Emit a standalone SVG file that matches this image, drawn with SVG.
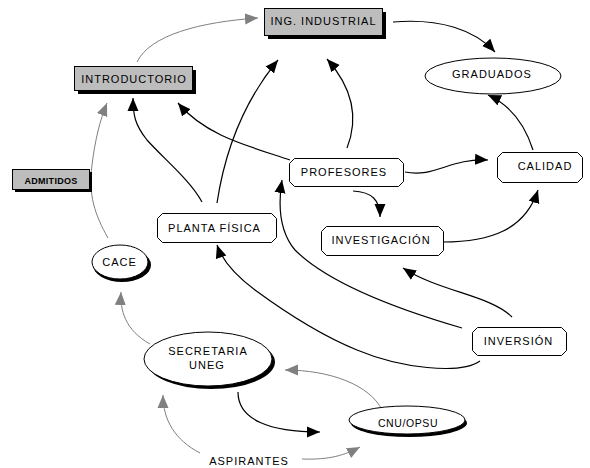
<svg xmlns="http://www.w3.org/2000/svg" width="590" height="468" viewBox="0 0 590 468">
<defs>
<style>
text{font-family:"Liberation Sans",Arial,sans-serif;font-size:11px;letter-spacing:1px;fill:#000;text-anchor:middle}
.b{fill:none;stroke:#000;stroke-width:1.2}
.g{fill:none;stroke:#808080;stroke-width:1}
.gbox{fill:#bdbdbd;stroke:#000;stroke-width:1}
.sh{fill:#000}
.wb{fill:#fff;stroke:#000;stroke-width:1}
</style>
<marker id="ab" markerWidth="14" markerHeight="12" refX="13" refY="6" orient="auto" markerUnits="userSpaceOnUse"><path d="M0,0.5 L13,6 L0,11.5 z" fill="#000"/></marker>
<marker id="ag" markerWidth="14" markerHeight="12" refX="13" refY="6" orient="auto" markerUnits="userSpaceOnUse"><path d="M0,0.5 L13,6 L0,11.5 z" fill="#808080"/></marker>
</defs>
<rect width="590" height="468" fill="#fff"/>
<g id="connectors">
<path class="g" d="M137,62 C150,35 200,22 258,18" marker-end="url(#ag)"/>
<path class="b" d="M393,22 C440,18 475,30 495,52" marker-end="url(#ab)"/>
<path class="b" d="M533,150 C525,125 510,105 488,95" marker-end="url(#ab)"/>
<path class="b" d="M347,148 C360,115 350,85 327,59" marker-end="url(#ab)"/>
<path class="b" d="M405,172 C435,178 450,158 488,160" marker-end="url(#ab)"/>
<path class="b" d="M290,160 C245,145 205,135 178,103" marker-end="url(#ab)"/>
<path class="b" d="M202,202 C190,180 165,160 147,140 C135,125 133,115 133,98" marker-end="url(#ab)"/>
<path class="b" d="M217,203 C225,150 245,100 278,60" marker-end="url(#ab)"/>
<path class="b" d="M462,328 C400,310 330,285 295,250 C280,232 278,205 282,180" marker-end="url(#ab)"/>
<path class="b" d="M480,361 C460,375 400,368 357,350 C320,335 285,312 255,290 C235,275 222,260 217,245" marker-end="url(#ab)"/>
<path class="b" d="M512,317 C490,295 440,292 403,268" marker-end="url(#ab)"/>
<path class="b" d="M443,242 C490,242 525,230 538,190" marker-end="url(#ab)"/>
<path class="b" d="M353,191 C372,192 380,200 380,217" marker-end="url(#ab)"/>
<path class="g" d="M108,238 C95,215 88,195 92,165 C95,140 100,120 107,103" marker-end="url(#ag)"/>
<path class="g" d="M150,344 C125,330 120,310 121,292" marker-end="url(#ag)"/>
<path class="g" d="M382,410 C370,385 330,370 285,370" marker-end="url(#ag)"/>
<path class="b" d="M238,392 C238,420 270,432 320,432" marker-end="url(#ab)"/>
<path class="g" d="M200,453 C175,440 163,420 163,395" marker-end="url(#ag)"/>
<path class="g" d="M302,459 C330,460 345,455 360,447" marker-end="url(#ag)"/>
</g>
<g id="ing-industrial">
<rect class="sh" x="268" y="12" width="118" height="27"/>
<rect class="gbox" x="264.5" y="8.5" width="118" height="27"/>
<text x="323.5" y="25">ING. INDUSTRIAL</text>
</g>
<g id="introductorio">
<rect class="sh" x="78" y="70" width="118" height="24"/>
<rect class="gbox" x="74.5" y="66.5" width="118" height="24"/>
<text x="134" y="83">INTRODUCTORIO</text>
</g>
<g id="admitidos">
<rect class="sh" x="15" y="172" width="77" height="20"/>
<rect class="gbox" x="12.5" y="169.5" width="77" height="20"/>
<text x="51" y="183.5" style="font-size:9px;font-weight:bold;letter-spacing:0.3px">ADMITIDOS</text>
</g>
<g id="graduados">
<ellipse class="wb" cx="493" cy="76" rx="68" ry="18"/>
<text x="492" y="78">GRADUADOS</text>
</g>
<g id="profesores">
<path class="wb" d="M294.5,158.5 H398.5 L403.5,163.5 V181.5 L398.5,186.5 H294.5 L289.5,181.5 V163.5 Z"/>
<text x="344" y="176">PROFESORES</text>
</g>
<g id="calidad">
<path class="wb" d="M502.5,152.5 H577.5 L582.5,157.5 V177.5 L577.5,182.5 H502.5 L497.5,177.5 V157.5 Z"/>
<text x="545" y="170">CALIDAD</text>
</g>
<g id="planta-fisica">
<path class="wb" d="M162.5,213.5 H271.5 L276.5,218.5 V237.5 L271.5,242.5 H162.5 L157.5,237.5 V218.5 Z"/>
<text x="214.5" y="232">PLANTA FÍSICA</text>
</g>
<g id="investigacion">
<path class="wb" d="M326.5,226.5 H438.5 L443.5,231.5 V250.5 L438.5,255.5 H326.5 L321.5,250.5 V231.5 Z"/>
<text x="381" y="244">INVESTIGACIÓN</text>
</g>
<g id="inversion">
<path class="wb" d="M477.5,327.5 H561.5 L566.5,332.5 V350.5 L561.5,355.5 H477.5 L472.5,350.5 V332.5 Z"/>
<text x="518.5" y="345">INVERSIÓN</text>
</g>
<g id="cace">
<ellipse class="sh" cx="122" cy="265" rx="29" ry="17"/>
<ellipse class="wb" cx="120" cy="262" rx="28" ry="17"/>
<text x="119.5" y="266">CACE</text>
</g>
<g id="secretaria-uneg">
<ellipse class="sh" cx="211" cy="362" rx="64" ry="27"/>
<ellipse class="wb" cx="208" cy="359" rx="64" ry="27"/>
<text x="208" y="355">SECRETARIA</text>
<text x="207" y="369">UNEG</text>
</g>
<g id="cnu-opsu">
<ellipse class="sh" cx="409" cy="423" rx="58" ry="14"/>
<ellipse class="wb" cx="407" cy="420" rx="58" ry="14"/>
<text x="408" y="427" style="font-size:10.5px;letter-spacing:0.6px">CNU/OPSU</text>
</g>
<g id="aspirantes">
<text x="249" y="465">ASPIRANTES</text>
</g>
</svg>
